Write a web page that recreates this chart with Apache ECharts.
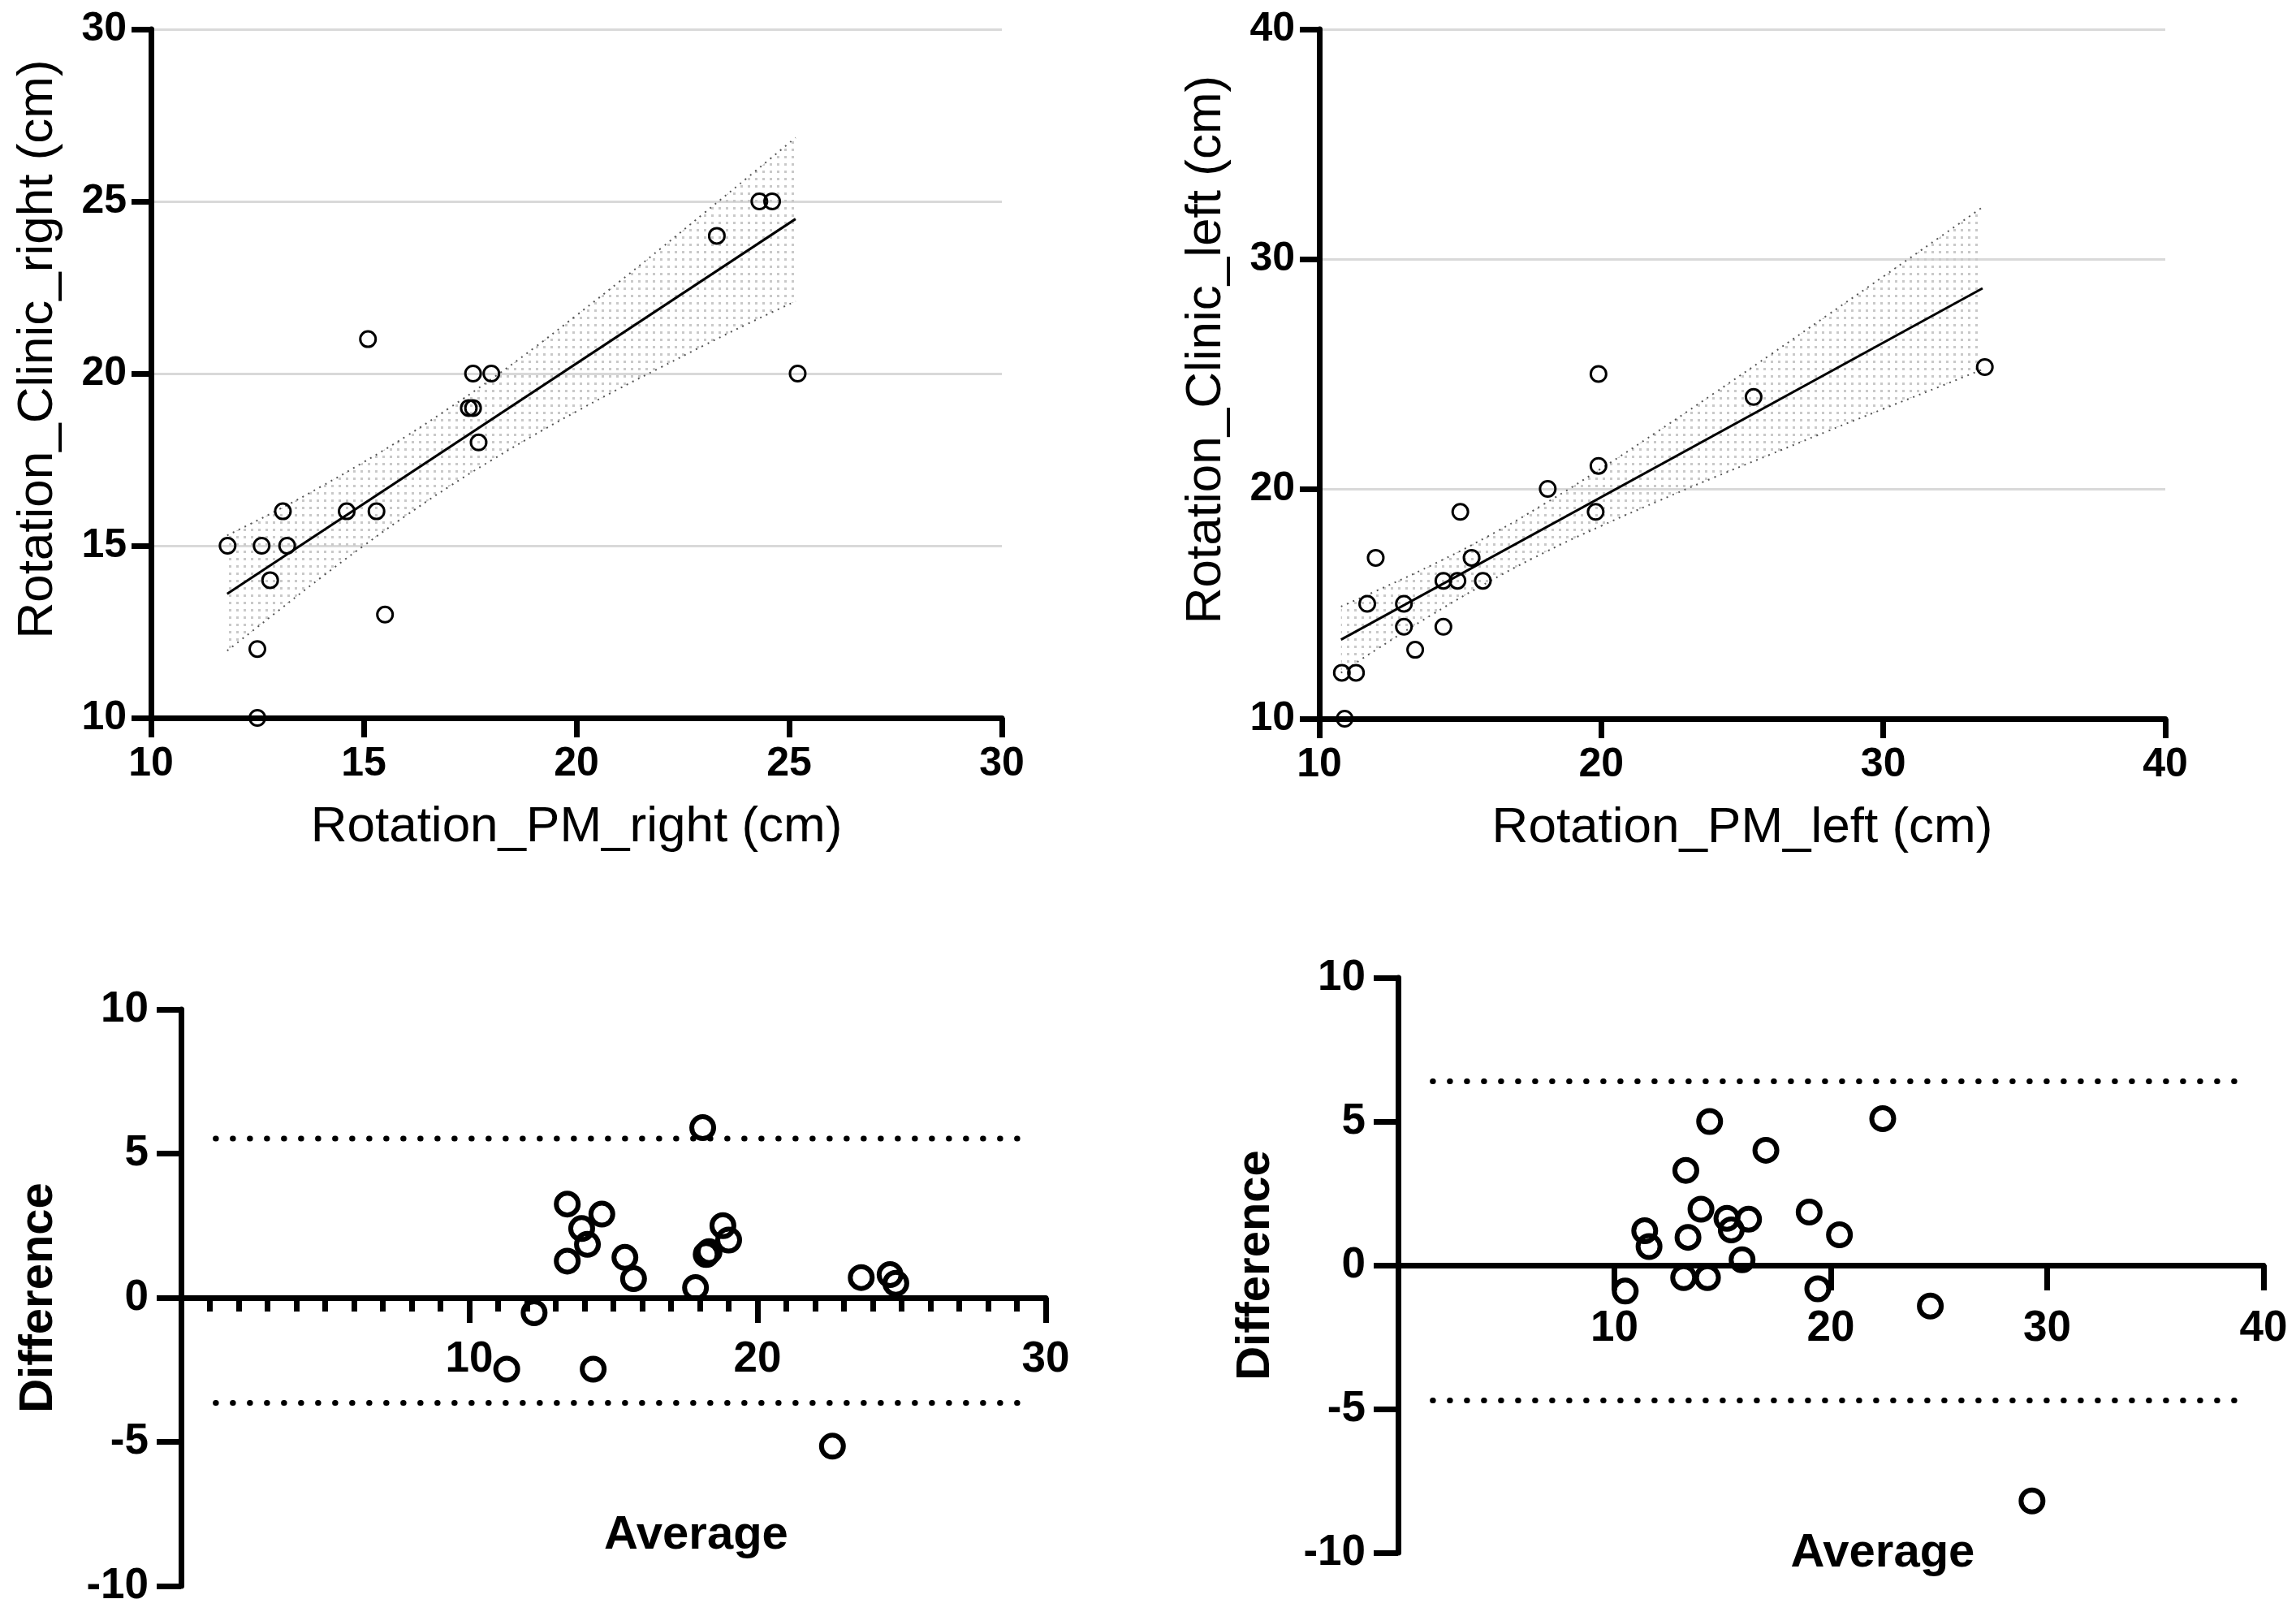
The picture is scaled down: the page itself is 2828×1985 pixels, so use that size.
<!DOCTYPE html>
<html><head><meta charset="utf-8">
<script src="https://cdn.jsdelivr.net/npm/echarts@6/dist/echarts.min.js"></script>
<style>html,body{margin:0;padding:0;background:#fff}#c{width:2828px;height:1985px}</style>
</head><body><div id="c"></div>
<script>
// ---- Panel A: right side (PM vs Clinic) ----
const pmRight     = [11.8,12.6,13.2,13.1,12.8,12.5,12.5,14.6,15.3,15.1,15.5,17.57,18.0,17.47,17.57,17.7,23.3,24.3,24.6,25.2];
const clinicRight = [15,15,15,16,14,12,10,16,16,21,13,20,20,19,19,18,24,25,25,20];
const fitRightX   = [11.79, 25.15];
const fitRightY   = [13.6, 24.49];
const bandRightX     = [11.79,13,14,15,16,17,18,19,20,21,22,23,24,25.15];
const bandRightUpper = [15.3,16.05,16.72,17.43,18.18,18.99,19.84,20.74,21.69,22.66,23.65,24.66,25.67,26.85];
const bandRightLower = [11.95,13.12,14.08,15.0,15.88,16.71,17.48,18.21,18.9,19.56,20.19,20.82,21.43,22.1];

// ---- Panel B: left side ----
const pmLeft     = [10.9,10.8,11.3,11.7,12.0,13.0,13.0,13.4,14.4,14.4,14.9,15.0,15.4,15.8,18.1,19.9,19.9,19.8,25.4,33.6];
const clinicLeft = [10,12,12,15,17,15,14,13,14,16,16,19,17,16,20,25,21,19,24,25.3];
const fitLeftX   = [10.77, 33.52];
const fitLeftY   = [13.44, 28.73];
const bandLeftX     = [10.77,12,14,16,18,20,22,24,26,28,30,32,33.52];
const bandLeftUpper = [14.88,15.55,16.69,17.95,19.36,20.89,22.5,24.16,25.84,27.54,29.24,30.95,32.26];
const bandLeftLower = [12.0,12.99,14.53,15.95,17.24,18.39,19.46,20.5,21.5,22.5,23.48,24.45,25.2];

// ---- Panel C: Bland-Altman right ----
const baRightAvg  = [18.1,13.4,14.6,13.9,14.1,13.4,15.4,15.7,18.8,19.0,18.22,18.32,17.85,23.6,24.6,24.8,12.25,11.3,14.3,22.6];
const baRightDiff = [5.9,3.25,2.9,2.4,1.85,1.27,1.4,0.66,2.5,2.0,1.5,1.6,0.35,0.7,0.8,0.5,-0.52,-2.48,-2.48,-5.15];
const baRightLimits = [5.52, -3.65];
const baRightLimitX = [1.2, 29.5];

// ---- Panel D: Bland-Altman left ----
const baLeftAvg  = [14.4,22.4,17.0,13.3,14.0,15.2,15.4,16.2,19.0,20.4,11.4,11.6,13.4,15.9,13.2,14.3,10.5,19.4,24.6,29.3];
const baLeftDiff = [5.0,5.1,4.0,3.3,1.95,1.63,1.23,1.6,1.85,1.06,1.2,0.65,0.97,0.19,-0.43,-0.43,-0.9,-0.82,-1.42,-8.2];
const baLeftLimits = [6.4, -4.7];
const baLeftLimitX = [1.6, 39.2];

// ---- tick settings ----
const topRightTicks = {min:10, max:30, interval:5};
const topLeftTicks  = {min:10, max:40, interval:10};
const baRightXTicks = {min:0, max:30, interval:10};
const baLeftXTicks  = {min:0, max:40, interval:10};
const baYTicks      = {min:-10, max:10, interval:5};

const FONT = 'Liberation Sans, Arial, sans-serif';
const pairs = (xs, ys) => xs.map((x, i) => [x, ys[i]]);

const pat = document.createElement('canvas');
pat.width = 9; pat.height = 9;
const pc = pat.getContext('2d');
pc.fillStyle = '#c9c9c9';
pc.fillRect(3, 3, 3, 3);

const axisLine = {show:true, onZero:false, lineStyle:{color:'#000', width:7}};
function topX(grid, t, name) {
  return {type:'value', gridIndex:grid, min:t.min, max:t.max, interval:t.interval,
    axisLine, axisTick:{show:true, length:24, lineStyle:{color:'#000', width:7}},
    axisLabel:{fontFamily:FONT, fontWeight:'bold', fontSize:50, color:'#000', margin:32},
    splitLine:{show:false}, name, nameLocation:'middle', nameGap:104,
    nameTextStyle:{fontFamily:FONT, fontSize:62, color:'#000'}};
}
function topY(grid, t, name) {
  return {type:'value', gridIndex:grid, min:t.min, max:t.max, interval:t.interval,
    axisLine, axisTick:{show:true, length:24, lineStyle:{color:'#000', width:7}},
    axisLabel:{fontFamily:FONT, fontWeight:'bold', fontSize:50, color:'#000', margin:30},
    splitLine:{show:true, lineStyle:{color:'#d9d9d9', width:3}}, name, nameLocation:'middle', nameGap:108,
    nameTextStyle:{fontFamily:FONT, fontSize:62, color:'#000', padding:[0,0,0,60]}};
}
// Bland-Altman x axis: drawn at Difference = 0 (offset up by half the grid height, the 0 level)
function baX(grid, t, minor, gap, shift, zeroOffset, margin) {
  return {type:'value', gridIndex:grid, min:t.min, max:t.max, interval:t.interval, offset:-zeroOffset,
    axisLine:{show:true, onZero:false, lineStyle:{color:'#000', width:7}},
    axisTick:{show:true, length:31, lineStyle:{color:'#000', width:7}},
    minorTick:{show:minor, splitNumber:10, length:17, lineStyle:{color:'#000', width:7}},
    axisLabel:{fontFamily:FONT, fontWeight:'bold', fontSize:53, color:'#000', margin:margin,
      formatter: v => v === 0 ? '' : String(v)},
    splitLine:{show:false}, minorSplitLine:{show:false},
    name:'Average', nameLocation:'middle', nameGap:gap,
    nameTextStyle:{fontFamily:FONT, fontWeight:'bold', fontSize:58, color:'#000', padding:[0,0,0,shift]}};
}
function baY(grid) {
  return {type:'value', gridIndex:grid, min:baYTicks.min, max:baYTicks.max, interval:baYTicks.interval,
    axisLine:{show:true, onZero:false, lineStyle:{color:'#000', width:7}},
    axisTick:{show:true, length:30, lineStyle:{color:'#000', width:7}},
    axisLabel:{fontFamily:FONT, fontWeight:'bold', fontSize:53, color:'#000', margin:40},
    splitLine:{show:false}, name:'Difference', nameLocation:'middle', nameGap:146,
    nameTextStyle:{fontFamily:FONT, fontWeight:'bold', fontSize:58, color:'#000'}};
}
function scatter(i, xs, ys, size, bw) {
  return {type:'scatter', xAxisIndex:i, yAxisIndex:i, data:pairs(xs, ys), symbol:'circle', symbolSize:size,
    itemStyle:{color:'rgba(0,0,0,0)', borderColor:'#000', borderWidth:bw, opacity:1}, z:5, silent:true};
}
function band(i, xs, up, lo) {
  const poly = pairs(xs, up).concat(pairs(xs, lo).reverse());
  return [
    {type:'custom', xAxisIndex:i, yAxisIndex:i, data:poly, silent:true, z:1, clip:true,
      renderItem:(params, api) => {
        if (params.dataIndex !== 0) return null;
        const pts = poly.map(p => api.coord(p));
        return {type:'polygon', shape:{points:pts}, style:{fill:{image:pat, repeat:'repeat'}, stroke:null}};
      }},
    {type:'line', xAxisIndex:i, yAxisIndex:i, data:pairs(xs, up), symbol:'none', smooth:true,
      lineStyle:{color:'#555', width:2, type:[2,6]}, silent:true, z:2},
    {type:'line', xAxisIndex:i, yAxisIndex:i, data:pairs(xs, lo), symbol:'none', smooth:true,
      lineStyle:{color:'#555', width:2, type:[2,6]}, silent:true, z:2}
  ];
}
function line(i, xs, ys) {
  return {type:'line', xAxisIndex:i, yAxisIndex:i, data:pairs(xs, ys), symbol:'none',
    lineStyle:{color:'#000', width:3}, silent:true, z:3};
}
function limits(i, xr, lims) {
  return lims.map(v => ({type:'line', xAxisIndex:i, yAxisIndex:i, data:[[xr[0], v], [xr[1], v]], symbol:'none',
    lineStyle:{color:'#000', width:7, type:[0.5, 20.5], cap:'round'}, silent:true, z:2}));
}

const G = {containLabel:false, outerBoundsMode:'none'};
const gridC = {left:223, top:1243, width:1065, height:710};
const gridD = {left:1722, top:1204, width:1066, height:708};
const chart = echarts.init(document.getElementById('c'), null, {renderer:'canvas'});
chart.setOption({
  animation:false,
  backgroundColor:'#fff',
  grid:[
    Object.assign({left:186, top:36, width:1048, height:848}, G),
    Object.assign({left:1625, top:36, width:1042, height:849}, G),
    Object.assign({}, gridC, G),
    Object.assign({}, gridD, G)
  ],
  xAxis:[
    topX(0, topRightTicks, 'Rotation_PM_right (cm)'),
    topX(1, topLeftTicks, 'Rotation_PM_left (cm)'),
    baX(2, baRightXTicks, true, 264, 204, gridC.height / 2, 50),
    baX(3, baLeftXTicks, false, 326, 128, gridD.height / 2, 52)
  ],
  yAxis:[
    topY(0, topRightTicks, 'Rotation_Clinic_right (cm)'),
    topY(1, topLeftTicks, 'Rotation_Clinic_left (cm)'),
    baY(2), baY(3)
  ],
  series:[
    ...band(0, bandRightX, bandRightUpper, bandRightLower),
    line(0, fitRightX, fitRightY),
    scatter(0, pmRight, clinicRight, 19, 3),
    ...band(1, bandLeftX, bandLeftUpper, bandLeftLower),
    line(1, fitLeftX, fitLeftY),
    scatter(1, pmLeft, clinicLeft, 19, 3),
    ...limits(2, baRightLimitX, baRightLimits),
    scatter(2, baRightAvg, baRightDiff, 27, 6),
    ...limits(3, baLeftLimitX, baLeftLimits),
    scatter(3, baLeftAvg, baLeftDiff, 27, 6)
  ]
});
</script></body></html>
